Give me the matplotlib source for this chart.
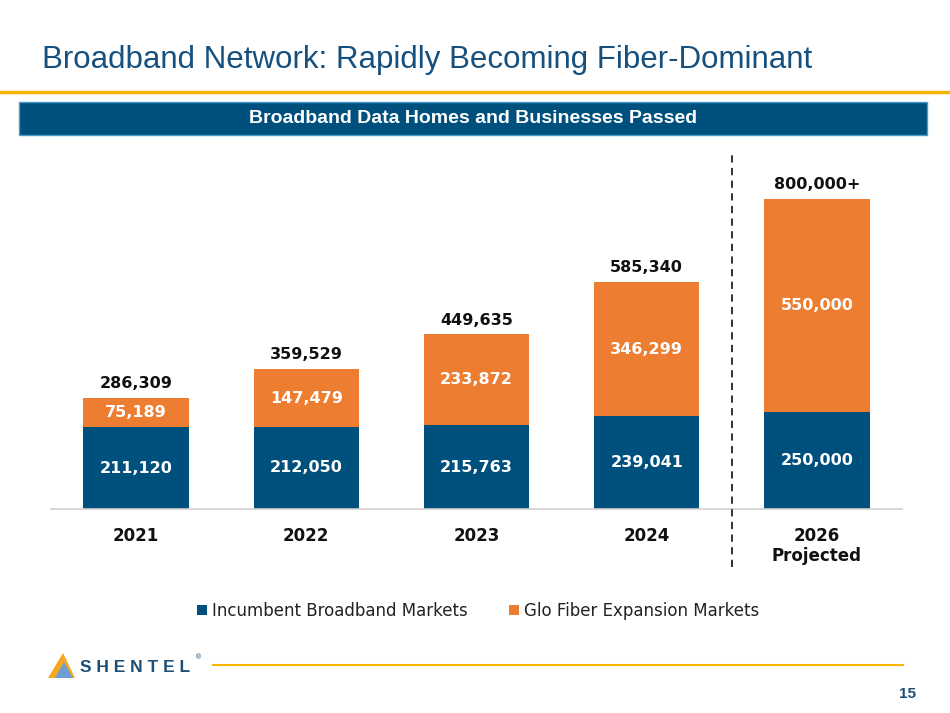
import matplotlib
matplotlib.use("Agg")
import matplotlib.pyplot as plt
from matplotlib.patches import Rectangle, Polygon
from matplotlib.lines import Line2D

categories = ["2021", "2022", "2023", "2024", "2026\nProjected"]
incumbent = [211120, 212050, 215763, 239041, 250000]
glo_fiber = [75189, 147479, 233872, 346299, 550000]
totals = ["286,309", "359,529", "449,635", "585,340", "800,000+"]
series_names = ["Incumbent Broadband Markets", "Glo Fiber Expansion Markets"]

BLUE = "#00507d"
ORANGE = "#ed7d31"
GOLD = "#f7b500"
TITLE_BLUE = "#16507e"

fig = plt.figure(figsize=(9.5, 7.13), dpi=100)
W, H = 950, 713

def fx(px):
    return px / W

def fy(py):
    return 1 - py / H

# Title
fig.text(fx(42), fy(68), "Broadband Network: Rapidly Becoming Fiber-Dominant",
         fontsize=22.5, color=TITLE_BLUE, family=["Liberation Sans", "DejaVu Sans"],
         va="baseline", ha="left")
# gold line under title
fig.add_artist(Line2D([0, 1], [fy(92), fy(92)], color=GOLD, lw=2.5, transform=fig.transFigure))
# header box
fig.add_artist(Rectangle((fx(19), fy(135)), fx(927 - 19), (135 - 102) / H, facecolor=BLUE,
                         edgecolor="#4a9acb", lw=1, transform=fig.transFigure))
fig.text(fx(473), fy(118.5), "Broadband Data Homes and Businesses Passed", fontsize=14,
         fontweight="bold", color="white", family="Liberation Sans", ha="center", va="center")

# Axes
ax = fig.add_axes([fx(51), fy(509), fx(902 - 51), (509 - 150) / H])
x = list(range(len(categories)))
bw = 0.62
ax.bar(x, incumbent, width=bw, color=BLUE, label=series_names[0], zorder=2)
ax.bar(x, glo_fiber, width=bw, bottom=incumbent, color=ORANGE, label=series_names[1], zorder=2)
ax.set_xlim(-0.5, 4.5)
ax.set_ylim(0, 925000)
for s in ["top", "right", "left"]:
    ax.spines[s].set_visible(False)
ax.spines["bottom"].set_color("#d0d0d0")
ax.spines["bottom"].set_linewidth(1.2)
ax.set_yticks([])
ax.set_xticks(x)
ax.set_xticklabels(categories, fontsize=12, fontweight="bold", color="#111111",
                   family="DejaVu Sans", linespacing=1.15, va="top")
ax.tick_params(axis="x", length=0, pad=13)

for i in x:
    ax.text(i, incumbent[i] / 2, f"{incumbent[i]:,}", ha="center", va="center",
            color="white", fontsize=11.5, fontweight="bold")
    ax.text(i, incumbent[i] + glo_fiber[i] / 2, f"{glo_fiber[i]:,}", ha="center", va="center",
            color="white", fontsize=11.5, fontweight="bold")
    ax.text(i, incumbent[i] + glo_fiber[i] + 18000, totals[i], ha="center", va="bottom",
            color="#111111", fontsize=11.5, fontweight="bold")

# dashed divider
ax.plot([3.5, 3.5], [-150000, 920000], ls=(0, (4, 3)), color="#222222", lw=1.3,
        clip_on=False, zorder=3)

# Legend
handles, labels = ax.get_legend_handles_labels()
fig.legend(handles, labels, loc="center", bbox_to_anchor=(fx(478), fy(611)), ncol=2,
           frameon=False, fontsize=12, handlelength=0.6, handleheight=0.6,
           handletextpad=0.3, columnspacing=2.5, labelcolor="#222222")

# Footer
fig.add_artist(Line2D([fx(213), fx(903)], [fy(665), fy(665)], color=GOLD, lw=1.5,
                      transform=fig.transFigure))
tri_outer = Polygon([(fx(48), fy(678)), (fx(63), fy(653)), (fx(75), fy(678))], closed=True,
                    facecolor="#f5a623", edgecolor="none", transform=fig.transFigure)
fig.add_artist(tri_outer)
tri_inner = Polygon([(fx(55), fy(678)), (fx(64), fy(662)), (fx(73), fy(678))], closed=True,
                    facecolor="#6d9fd0", edgecolor="none", transform=fig.transFigure)
fig.add_artist(tri_inner)
fig.text(fx(80), fy(667), "S H E N T E L", fontsize=12.5, fontweight="bold", color="#1b4f78",
         family="Liberation Sans", va="center", ha="left")
fig.text(fx(195), fy(657), "®", fontsize=5, color="#1b4f78", va="center", ha="left")
fig.text(fx(916), fy(694), "15", fontsize=11, fontweight="bold", color="#1b4f78",
         family="Liberation Sans", ha="right", va="center")

fig.savefig("out.png", dpi=100)
